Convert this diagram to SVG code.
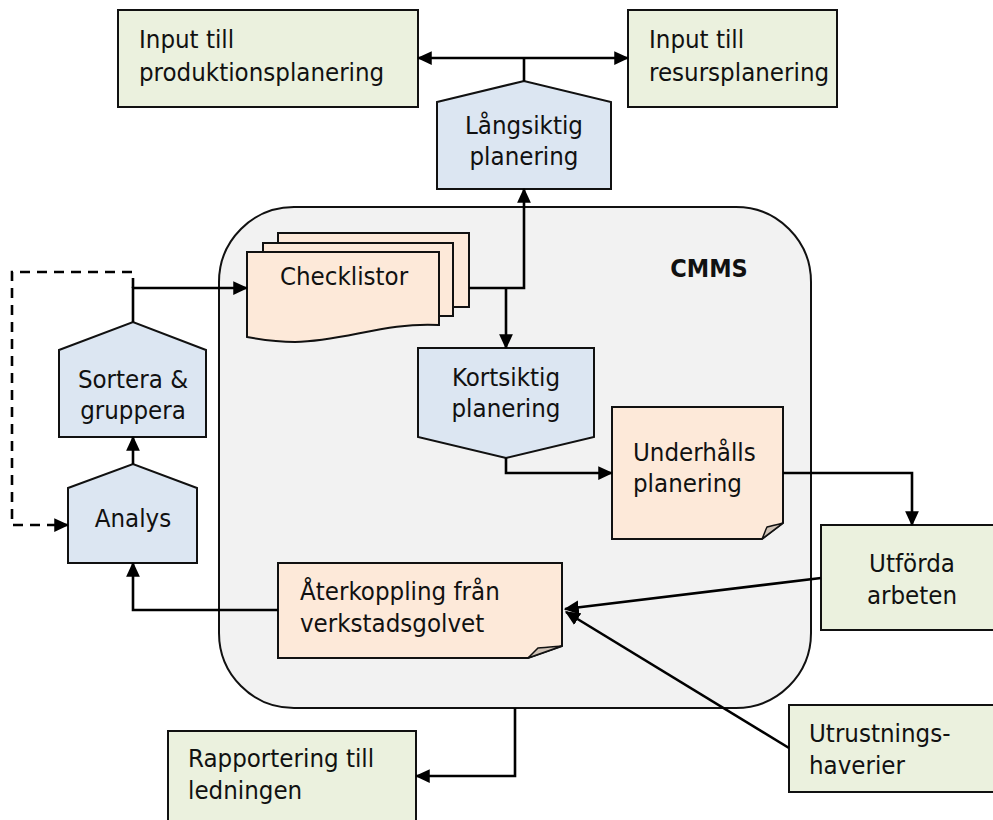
<svg xmlns="http://www.w3.org/2000/svg" width="993" height="820" viewBox="0 0 993 820">
  <style>
    .txt { font-family: "DejaVu Sans Condensed", "DejaVu Sans", sans-serif; font-stretch: condensed; font-size: 25.6px; fill: #111; }
    .mid { text-anchor: middle; }
    .bold { font-weight: bold; font-size: 25px; }
    .green { fill: #ebf1de; stroke: #111; stroke-width: 2; }
    .blue { fill: #dce6f2; stroke: #111; stroke-width: 2; }
    .note { fill: #fde9d9; stroke: #111; stroke-width: 2; }
    .fold { fill: #cfc2b6; stroke: #111; stroke-width: 1.5; }
    .cmms { fill: #f2f2f2; stroke: #111; stroke-width: 2; }
    .conn { fill: none; stroke: #000; stroke-width: 2.6; }
    .dash { stroke-dasharray: 10 7; }
  </style>
  <defs>
    <marker id="arrow" viewBox="0 0 12 12" refX="11" refY="6" markerWidth="15" markerHeight="15" markerUnits="userSpaceOnUse" orient="auto-start-reverse">
      <path d="M0,0.5 L12,6 L0,11.5 Z" fill="#000"/>
    </marker>
  </defs>

  <!-- CMMS system boundary -->
  <g id="cmms">
    <rect class="cmms" x="219" y="207" width="592" height="501" rx="75" ry="75"/>
    <text class="txt bold mid" x="709" y="277">CMMS</text>
  </g>

  <g id="input-produktion">
    <rect class="green" x="118" y="10" width="300" height="97"/>
    <text class="txt" x="139" y="48">Input till</text>
    <text class="txt" x="139" y="81">produktionsplanering</text>
  </g>

  <g id="input-resurs">
    <rect class="green" x="628" y="10" width="209" height="97"/>
    <text class="txt" x="649" y="48">Input till</text>
    <text class="txt" x="649" y="81">resursplanering</text>
  </g>

  <g id="langsiktig">
    <polygon class="blue" points="437,102 524,81 611,102 611,189 437,189"/>
    <text class="txt mid" x="524" y="134">Långsiktig</text>
    <text class="txt mid" x="524" y="165">planering</text>
  </g>

  <g id="checklistor">
    <rect class="note" x="278" y="233" width="191" height="74"/>
    <rect class="note" x="263" y="243" width="190" height="73"/>
    <path class="note" d="M247,252 H439 V325 C385,322 345,341 295,342 C275,342 258,339 247,337 Z"/>
    <text class="txt mid" x="344" y="285">Checklistor</text>
  </g>

  <g id="kortsiktig">
    <polygon class="blue" points="418,348 594,348 594,437 506,458 418,437"/>
    <text class="txt mid" x="506" y="386">Kortsiktig</text>
    <text class="txt mid" x="506" y="417">planering</text>
  </g>

  <g id="underhall">
    <path class="note" d="M612,407 H783 V523 L762,539 H612 Z"/>
    <path class="fold" d="M762,539 L783,523 C776,525 770,526 767,527 C765,531 764,535 762,539 Z"/>
    <text class="txt" x="633" y="461">Underhålls</text>
    <text class="txt" x="633" y="492">planering</text>
  </g>

  <g id="sortera">
    <polygon class="blue" points="59,350 133,322 206,350 206,437 59,437"/>
    <text class="txt mid" x="133" y="388">Sortera &amp;</text>
    <text class="txt mid" x="133" y="419">gruppera</text>
  </g>

  <g id="analys">
    <polygon class="blue" points="68,488 133,464 197,488 197,563 68,563"/>
    <text class="txt mid" x="133" y="527">Analys</text>
  </g>

  <g id="aterkoppling">
    <path class="note" d="M278,563 H562 V646 L528,658 H278 Z"/>
    <path class="fold" d="M528,658 L562,646 C552,647 544,648 538,648 C535,651 531,655 528,658 Z"/>
    <text class="txt" x="300" y="600">Återkoppling från</text>
    <text class="txt" x="300" y="632">verkstadsgolvet</text>
  </g>

  <g id="utforda">
    <rect class="green" x="821" y="525" width="180" height="105"/>
    <text class="txt mid" x="912" y="572">Utförda</text>
    <text class="txt mid" x="912" y="604">arbeten</text>
  </g>

  <g id="utrustning">
    <rect class="green" x="789" y="705" width="212" height="87"/>
    <text class="txt" x="809" y="742">Utrustnings-</text>
    <text class="txt" x="809" y="774">haverier</text>
  </g>

  <g id="rapportering">
    <rect class="green" x="168" y="731" width="248" height="100"/>
    <text class="txt" x="188" y="767">Rapportering till</text>
    <text class="txt" x="188" y="799">ledningen</text>
  </g>

  <!-- connectors -->
  <g id="connectors">
    <path class="conn" d="M418,58 H628" marker-start="url(#arrow)" marker-end="url(#arrow)"/>
    <path class="conn" d="M524,58 V81"/>
    <path class="conn" d="M469,288 H524 V189" marker-end="url(#arrow)"/>
    <path class="conn" d="M506,288 V348" marker-end="url(#arrow)"/>
    <path class="conn" d="M506,458 V473 H612" marker-end="url(#arrow)"/>
    <path class="conn" d="M783,473 H912 V525" marker-end="url(#arrow)"/>
    <path class="conn" d="M821,578 L565,609" marker-end="url(#arrow)"/>
    <path class="conn" d="M789,748 L566,612" marker-end="url(#arrow)"/>
    <path class="conn" d="M278,610 H133 V563" marker-end="url(#arrow)"/>
    <path class="conn" d="M133,464 V437" marker-end="url(#arrow)"/>
    <path class="conn" d="M133,322 V288 H247" marker-end="url(#arrow)"/>
    <path class="conn dash" d="M133,288 V272 H12 V525 H68" marker-end="url(#arrow)"/>
    <path class="conn" d="M515,708 V776 H416" marker-end="url(#arrow)"/>
  </g>
</svg>
